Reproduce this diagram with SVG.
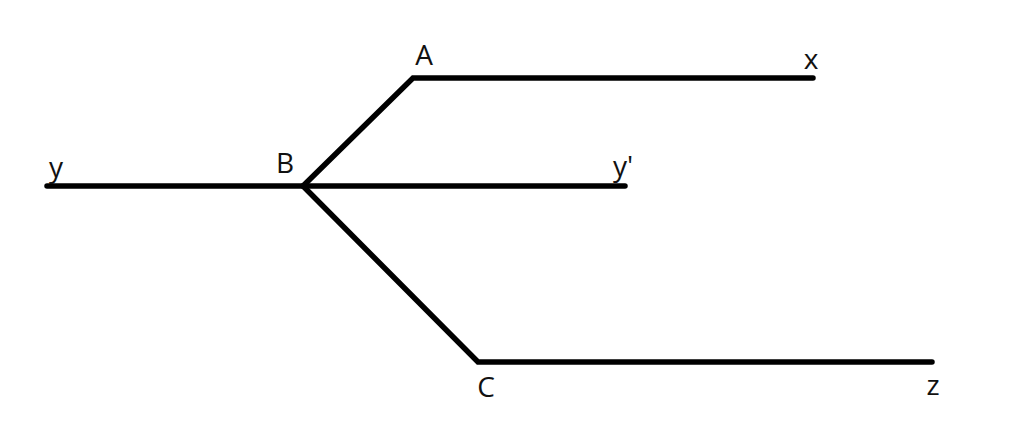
<svg xmlns="http://www.w3.org/2000/svg" width="1024" height="435" viewBox="0 0 1024 435">
<style>
.ln{fill:none;stroke:#000;stroke-width:5.5;stroke-linecap:round;stroke-linejoin:miter}
.lb{font-family:"Open Sans","Liberation Sans",sans-serif;font-size:28px;fill:#111;text-anchor:middle}
</style>
<rect width="1024" height="435" fill="#fff"/>
<g id="connectors">
<polyline class="ln" points="813,78 413,78 303,186"/>
<line class="ln" x1="47" y1="186" x2="625" y2="186"/>
<polyline class="ln" points="303,186 478,362 932,362"/>
</g>
<g id="node-A"><text class="lb" x="424" y="65">A</text></g>
<g id="node-x"><text class="lb" x="811" y="69">x</text></g>
<g id="node-B"><text class="lb" x="285" y="173">B</text></g>
<g id="node-y"><text class="lb" x="56" y="177">y</text></g>
<g id="node-y-prime"><text class="lb" x="623" y="176">y'</text></g>
<g id="node-C"><text class="lb" x="486" y="397">C</text></g>
<g id="node-z"><text class="lb" x="933" y="395">z</text></g>
</svg>
